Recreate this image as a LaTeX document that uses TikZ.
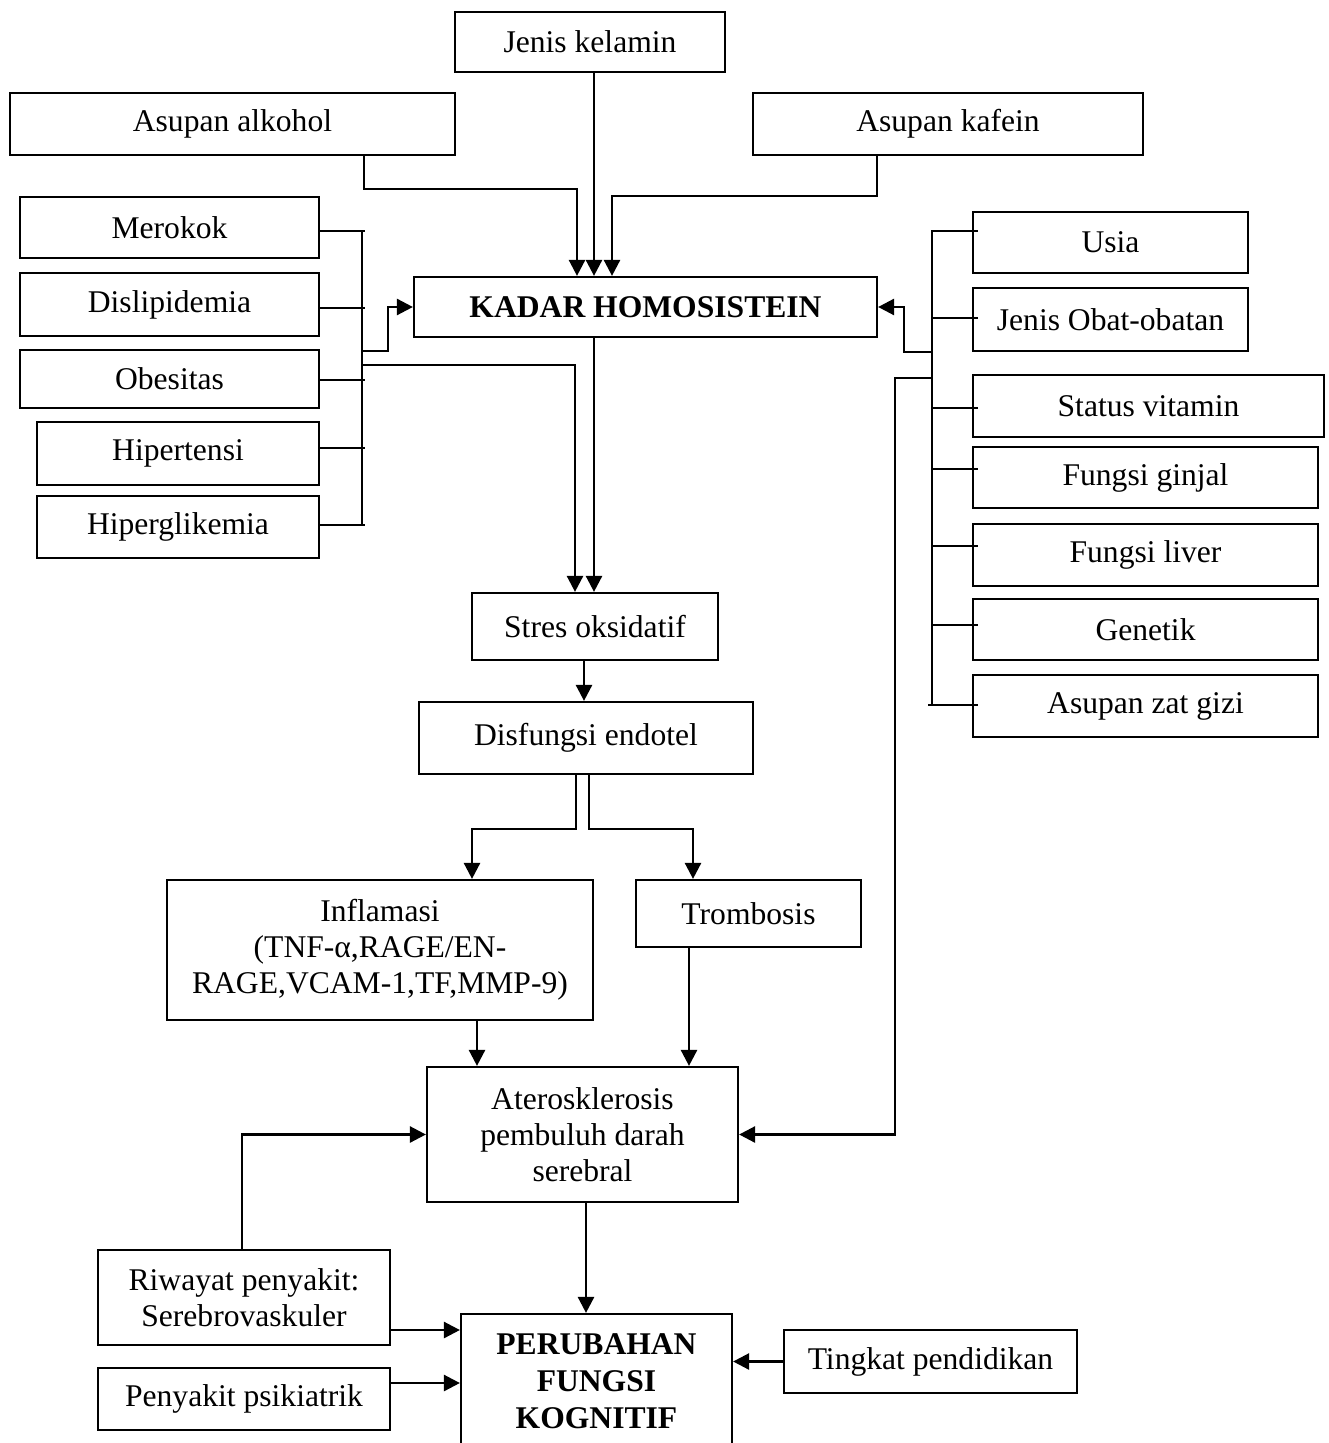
\documentclass[tikz,border=0pt]{standalone}
\usepackage{fontspec}
\setmainfont{Liberation Serif}
\usetikzlibrary{arrows.meta}

\begin{document}
\begin{tikzpicture}[x=0.5pt, y=-0.5pt,
  box/.style={draw, line width=1.1pt, inner sep=2pt, align=center,
    font=\fontsize{15.8}{18}\selectfont},
  wh/.style 2 args={minimum width=#1pt, minimum height=#2pt},
  ln/.style={line width=1.1pt},
  arr/.style={line width=1.3pt, -{Triangle[length=8pt,width=8pt]}}]
\useasboundingbox (0,0) rectangle (1328,1443);
\clip (0,0) rectangle (1328,1443);

% top factors
\node[box, wh={135}{30}]   (jk)  at (590,42)    {Jenis kelamin};
\node[box, wh={222.5}{31}] (alk) at (232.5,124) {Asupan alkohol};
\node[box, wh={195}{31}]   (kaf) at (948,124)   {Asupan kafein};

% left factors
\node[box, wh={149.5}{30.5}] (mer) at (169.5,227.5) {Merokok};
\node[box, wh={149.5}{31.5}] (dis) at (169.5,304.5) {Dislipidemia};
\node[box, wh={149.5}{29}]   (obe) at (169.5,379)   {Obesitas};
\node[box, wh={141}{31.5}]   (hip) at (178,453.5)   {Hipertensi};
\node[box, wh={141}{31}]     (hig) at (178,527)     {Hiperglikemia};

% central box
\node[box, wh={231.5}{30}, font=\fontsize{15.8}{18}\selectfont\bfseries] (kadar) at (645.5,307) {KADAR HOMOSISTEIN};

% right factors
\node[box, wh={137.5}{30.5}] (usia)   at (1110.5,242.5) {Usia};
\node[box, wh={137.5}{31.5}] (obat)   at (1110.5,319.5) {Jenis Obat-obatan};
\node[box, wh={175.5}{31}]   (vit)    at (1148.5,406)   {Status vitamin};
\node[box, wh={172.5}{30.5}] (ginjal) at (1145.5,477.5) {Fungsi ginjal};
\node[box, wh={172.5}{31}]   (liver)  at (1145.5,555)   {Fungsi liver};
\node[box, wh={172.5}{30.5}] (gen)    at (1145.5,629.5) {Genetik};
\node[box, wh={172.5}{31}]   (gizi)   at (1145.5,706)   {Asupan zat gizi};

% pathway
\node[box, wh={123}{33.5}]   (stres) at (595,626.5) {Stres oksidatif};
\node[box, wh={167}{36}]     (endo)  at (586,738)   {Disfungsi endotel};
\node[box, wh={213}{70}]     (infl)  at (380,950)   {Inflamasi\\(TNF-α,RAGE/EN-\\RAGE,VCAM-1,TF,MMP-9)};
\node[box, wh={112.5}{33.5}] (trom)  at (748.5,913.5) {Trombosis};
\node[box, wh={155.5}{67.5}] (ater)  at (582.5,1134.5) {Aterosklerosis\\pembuluh darah\\serebral};

% bottom
\node[box, wh={146}{47.5}] (riw) at (244,1297.5) {Riwayat penyakit:\\Serebrovaskuler};
\node[box, wh={146}{31}]   (psi) at (244,1399)   {Penyakit psikiatrik};
\node[box, wh={135.5}{67}, font=\fontsize{15.8}{18.5}\selectfont\bfseries] (per) at (596.5,1381) {PERUBAHAN\\FUNGSI\\KOGNITIF};
\node[box, wh={146.5}{31.5}] (tp) at (930.5,1361.5) {Tingkat pendidikan};

% arrows from the top factors
\draw[arr] ([xshift=2pt]jk.south) -- ([xshift=-25.75pt]kadar.north);
\draw[arr] ([xshift=65.75pt]alk.south) -- ++(0,33) -| ([xshift=-34.25pt]kadar.north);
\draw[arr] ([xshift=-35.5pt]kaf.south) -- ++(0,40) -| ([xshift=-16.75pt]kadar.north);

% left bracket
\coordinate (lb) at (362,0);
\draw[ln] ([yshift=-1.75pt]mer.east -| lb) -- ([yshift=1pt]hig.east -| lb);
\draw[ln] ([yshift=-1.75pt]mer.east) -- ++(45,0);
\draw[ln] ([yshift=-1.75pt]dis.east) -- ++(45,0);
\draw[ln] ([yshift=-0.5pt]obe.east) -- ++(45,0);
\draw[ln] ([yshift=2.75pt]hip.east) -- ++(45,0);
\draw[ln] ([yshift=1pt]hig.east) -- ++(45,0);
\coordinate (lbk) at (362,351);
\coordinate (lbs) at (362,365);
\draw[arr] (lbk) -- ++(26,0) |- (kadar.west);
\draw[arr] (lbs) -| ([xshift=-10pt]stres.north);

% right bracket
\coordinate (rb) at (932,0);
\draw[ln] ([yshift=5.75pt]usia.west -| rb) -- ([yshift=0.5pt]gizi.west -| rb);
\draw[ln] ([xshift=3pt,yshift=5.75pt]usia.west) -- ++(-47,0);
\draw[ln] ([xshift=3pt,yshift=0.75pt]obat.west) -- ++(-47,0);
\draw[ln] ([xshift=3pt,yshift=-1pt]vit.west) -- ++(-47,0);
\draw[ln] ([xshift=3pt,yshift=4.25pt]ginjal.west) -- ++(-47,0);
\draw[ln] ([xshift=3pt,yshift=4.5pt]liver.west) -- ++(-47,0);
\draw[ln] ([xshift=3pt,yshift=2.25pt]gen.west) -- ++(-47,0);
\draw[ln] ([xshift=3pt,yshift=0.5pt]gizi.west) -- ++(-50,0);
\coordinate (rbk) at (932,352);
\coordinate (rba) at (932,378);
\draw[arr] (rbk) -- ++(-28,0) |- (kadar.east);
\draw[arr] (rba) -- ++(-37,0) |- (ater.east);

% main pathway
\draw[arr] ([xshift=-25.75pt]kadar.south) -- ([xshift=-25.75pt]kadar.south |- stres.north);
\draw[arr] ([xshift=-5.5pt]stres.south) -- ([xshift=-5.5pt]stres.south |- endo.north);
\draw[arr] ([xshift=-5pt]endo.south) -- ++(0,54) -| ([xshift=46pt]infl.north);
\draw[arr] ([xshift=1.5pt]endo.south) -- ++(0,54) -| ([xshift=-27.75pt]trom.north);
\draw[arr] ([xshift=48.5pt]infl.south) -- ([xshift=48.5pt]infl.south |- ater.north);
\draw[arr] ([xshift=-29.75pt]trom.south) -- ([xshift=-29.75pt]trom.south |- ater.north);
\draw[arr] ([xshift=-1pt]riw.north) |- (ater.west);
\draw[arr] ([xshift=1.75pt]ater.south) -- ([xshift=1.75pt]ater.south |- per.north);

% factors of cognitive change
\draw[arr] ([yshift=-16.25pt]riw.east) -- ([yshift=-16.25pt]riw.east -| per.west);
\draw[arr] ([yshift=8pt]psi.east) -- ([yshift=8pt]psi.east -| per.west);
\draw[arr] (tp.west) -- (tp.west -| per.east);
\end{tikzpicture}
\end{document}
